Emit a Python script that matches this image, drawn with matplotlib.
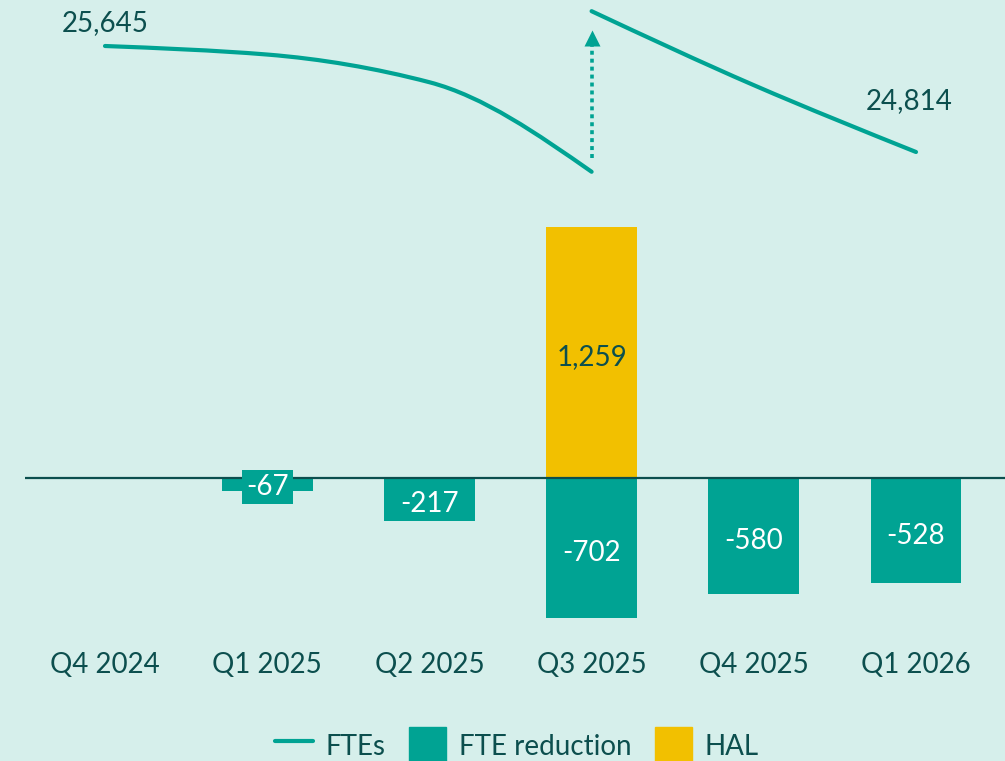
import numpy as np
import matplotlib
matplotlib.use("Agg")
import matplotlib.pyplot as plt
from matplotlib.path import Path
from matplotlib.patches import PathPatch, Patch
from matplotlib.lines import Line2D

# ---------------- data ----------------
quarters = ["Q4 2024", "Q1 2025", "Q2 2025", "Q3 2025", "Q4 2025", "Q1 2026"]
fte_reduction = [np.nan, -67, -217, -702, -580, -528]
hal = [np.nan, np.nan, np.nan, 1259, np.nan, np.nan]
# FTE line, before and after the HAL addition in Q3 2025
fte_before_x = [0, 1, 2, 3]
fte_before = [25645, 25578, 25361, 24659]
fte_after_x = [3, 4, 5]
fte_after = [25918, 25338, 24814]
fte_labels = {0: "25,645", 5: "24,814"}

# ---------------- style ----------------
BG = "#d6efeb"
TEAL = "#00a393"
YELLOW = "#f2c000"
DARK = "#0c4f4e"
plt.rcParams["font.family"] = ["Lato", "DejaVu Sans"]

W, H = 1005, 761
fig = plt.figure(figsize=(W / 100, H / 100), dpi=100, facecolor=BG)

def fig_rect(left, top, right, bottom):
    return [left / W, 1 - bottom / H, (right - left) / W, (bottom - top) / H]

# x mapping: category i at pixel 105 + 162.2*i, axes spans 25..1005
step = 162.2
x0px = 105
xl = (25 - x0px) / step
xr = (1005 - x0px) / step

# ---------------- bar axes ----------------
bar_top, bar_bot = 200, 630
base_px = 478
ppu = 0.1994  # pixels per FTE
ax = fig.add_axes(fig_rect(25, bar_top, 1005, bar_bot))
ax.set_facecolor("none")
ax.set_xlim(xl, xr)
ax.set_ylim(-(bar_bot - base_px) / ppu, (base_px - bar_top) / ppu)
for s in ax.spines.values():
    s.set_visible(False)
ax.set_yticks([])
xs = np.arange(len(quarters))
ax.set_xticks(xs)
ax.set_xticklabels(quarters, fontsize=20, color=DARK)
ax.tick_params(axis="x", length=0, pad=16)

bw = 0.56
red = np.array(fte_reduction, dtype=float)
halv = np.array(hal, dtype=float)
mask_r = ~np.isnan(red)
mask_h = ~np.isnan(halv)
ax.bar(xs[mask_r], red[mask_r], width=bw, color=TEAL, zorder=2)
ax.bar(xs[mask_h], halv[mask_h], width=bw, color=YELLOW, zorder=2)
ax.axhline(0, color=DARK, lw=1.6, zorder=3)

for i in xs[mask_r]:
    v = red[i]
    txt = f"{int(v):,}"
    kw = dict(ha="center", va="center", fontsize=20, color="white", zorder=4,
              xytext=(0, -3.5), textcoords="offset points")
    if abs(v) < 150:
        kw["bbox"] = dict(boxstyle="square,pad=0.15", fc=TEAL, ec="none")
        kw["xytext"] = (0, -1.5)
    ax.annotate(txt, (i, v / 2), **kw)
for i in xs[mask_h]:
    v = halv[i]
    ax.annotate(f"{int(v):,}", (i, v / 2), xytext=(0, -3.5), textcoords="offset points",
                ha="center", va="center", fontsize=20, color=DARK, zorder=4)

# ---------------- line axes ----------------
lax = fig.add_axes(fig_rect(25, 0, 1005, 200))
lax.set_facecolor("none")
lax.set_xlim(xl, xr)
upp = 7.84  # FTE per pixel
lax.set_ylim(25645 - (200 - 46) * upp, 25645 + 46 * upp)
lax.axis("off")

def monotone_path(x, y):
    x = np.asarray(x, float); y = np.asarray(y, float)
    dx = np.diff(x); m = np.diff(y) / dx
    n = len(x)
    t = np.zeros(n)
    for i in range(1, n - 1):
        if m[i - 1] * m[i] <= 0:
            t[i] = 0
        else:
            t[i] = 3 * (dx[i - 1] + dx[i]) / ((2 * dx[i] + dx[i - 1]) / m[i - 1] + (dx[i] + 2 * dx[i - 1]) / m[i])
    if n > 2:
        t[0] = (3 * m[0] - t[1]) / 2
        t[-1] = (3 * m[-1] - t[-2]) / 2
    else:
        t[:] = m[0]
    verts = [(x[0], y[0])]
    codes = [Path.MOVETO]
    for i in range(n - 1):
        h = dx[i] / 3
        verts += [(x[i] + h, y[i] + t[i] * h), (x[i + 1] - h, y[i + 1] - t[i + 1] * h), (x[i + 1], y[i + 1])]
        codes += [Path.CURVE4] * 3
    return Path(verts, codes)

for px, py in [(fte_before_x, fte_before), (fte_after_x, fte_after)]:
    lax.add_patch(PathPatch(monotone_path(px, py), fc="none", ec=TEAL, lw=3, capstyle="round", zorder=3))

# dotted arrow showing HAL jump
ylo = fte_before[-1] + 14 * upp
yhi = fte_after[0] - 19 * upp
lax.plot([3, 3], [ylo, yhi - 12 * upp], color=TEAL, lw=2.6, ls=(0, (1.1, 1.1)), solid_capstyle="butt")
lax.plot([3], [yhi - 7.5 * upp], marker="^", ms=11.5, color=TEAL, mec="none")

lax.annotate(fte_labels[0], (0, fte_before[0]), xytext=(0, 16.5), textcoords="offset points",
             ha="center", va="center", fontsize=20, color=DARK)
lax.annotate(fte_labels[5], (5, fte_after[-1]), xytext=(-5, 36.5), textcoords="offset points",
             ha="center", va="center", fontsize=20, color=DARK)

# ---------------- legend ----------------
handles = [Line2D([], [], color=TEAL, lw=3, solid_capstyle="round"),
           Patch(color=TEAL), Patch(color=YELLOW)]
fig.legend(handles, ["FTEs", "FTE reduction", "HAL"], loc="center",
           bbox_to_anchor=(517 / W, 1 - 746 / H), ncol=3, frameon=False,
           fontsize=20, labelcolor=DARK, handlelength=1.35, handleheight=1.73,
           handletextpad=0.45, columnspacing=0.85, borderaxespad=0)

fig.savefig("out.png", dpi=100, facecolor=BG)
